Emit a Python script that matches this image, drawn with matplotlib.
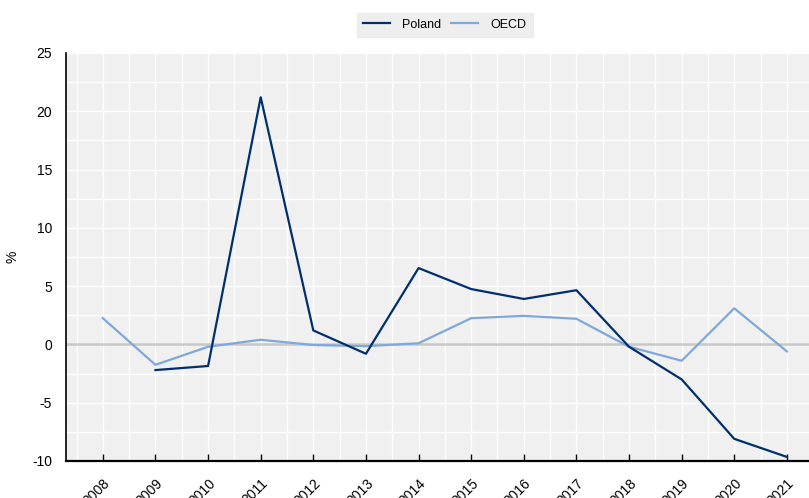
import numpy as np
import matplotlib.pyplot as plt
import matplotlib.transforms as mtransforms
from matplotlib.ticker import MultipleLocator

plt.rcParams['font.family'] = ['Liberation Sans', 'DejaVu Sans']
plt.rcParams['axes.unicode_minus'] = False

years = [2008, 2009, 2010, 2011, 2012, 2013, 2014, 2015, 2016, 2017, 2018, 2019, 2020, 2021]
poland = [np.nan, -2.2, -1.85, 21.2, 1.2, -0.8, 6.55, 4.75, 3.9, 4.65, -0.2, -3.0, -8.1, -9.65]
oecd = [2.25, -1.75, -0.2, 0.4, -0.05, -0.15, 0.1, 2.25, 2.45, 2.2, -0.2, -1.4, 3.1, -0.6]

fig = plt.figure(figsize=(8.09, 4.98), dpi=100)
ax = fig.add_axes([66/809, 1 - 461/498, (809 - 66)/809, (461 - 53)/498])
ax.set_facecolor('#f0f0f0')

ax.set_xlim(2007.30, 2021.42)
ax.set_ylim(-10, 25)
ax.set_xticks(years)
ax.set_xticklabels([str(y) for y in years], rotation=45, ha='right', rotation_mode='anchor', fontsize=10)
offset = mtransforms.ScaledTranslation(5/100, 0, fig.dpi_scale_trans)
for lbl in ax.get_xticklabels():
    lbl.set_transform(lbl.get_transform() + offset)
ax.xaxis.set_minor_locator(MultipleLocator(0.5))
ax.yaxis.set_major_locator(MultipleLocator(5))
ax.yaxis.set_minor_locator(MultipleLocator(2.5))
ax.grid(True, which='both', color='white', linewidth=1)
ax.set_axisbelow(True)
ax.axhline(0, color='#c8c8c8', linewidth=1.8, zorder=1)

ax.plot(years, poland, color='#002f6c', linewidth=1.6, label='Poland', zorder=3)
ax.plot(years, oecd, color='#7fa8d9', linewidth=1.6, label='OECD', zorder=2)

for s in ['top', 'right']:
    ax.spines[s].set_visible(False)
ax.spines['left'].set_linewidth(1.2)
ax.spines['bottom'].set_linewidth(1.6)
ax.tick_params(axis='x', which='major', direction='in', length=5, pad=11, width=1)
ax.tick_params(axis='x', which='minor', length=0)
ax.tick_params(axis='y', which='both', length=0, labelsize=10, pad=10)
ax.set_ylabel('%', fontsize=10)
ax.yaxis.set_label_coords(-0.063, 0.5)

leg = ax.legend(loc='lower center', bbox_to_anchor=(0.51, 1.03), ncol=2, frameon=True,
                fancybox=False, fontsize=9, handlelength=2.15, columnspacing=0.8,
                borderpad=0.5, borderaxespad=0.3, handletextpad=1.0)
leg.get_frame().set_facecolor('#eaeaea')
leg.get_frame().set_edgecolor('#eaeaea')

fig.savefig('out.png', dpi=100)
